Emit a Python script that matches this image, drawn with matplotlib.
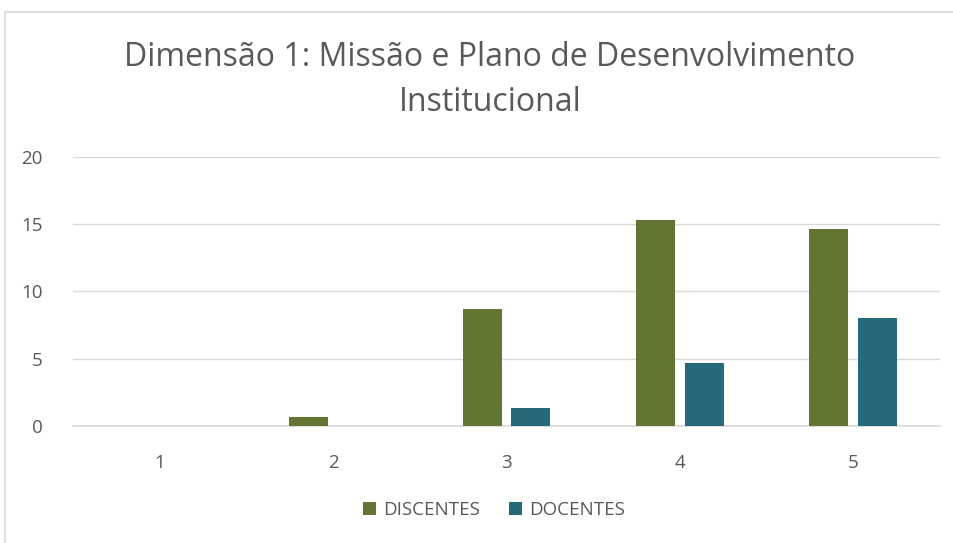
import numpy as np
import matplotlib.pyplot as plt
from matplotlib.lines import Line2D

# data
categorias = ["1", "2", "3", "4", "5"]
discentes = [0, 0.67, 8.67, 15.33, 14.67]
docentes = [0, 0, 1.33, 4.67, 8.0]
titulo = "Dimensão 1: Missão e Plano de Desenvolvimento\nInstitucional"

cor_disc = "#627531"
cor_doc = "#26697b"
cinza = "#595959"

plt.rcParams['font.family'] = ['Open Sans', 'DejaVu Sans']

fig = plt.figure(figsize=(9.54, 5.43), dpi=100)
ax = fig.add_axes([0.0765, 0.2155, 0.9088, 0.4954])

x = np.arange(1, len(categorias) + 1)
w = 0.225
ax.bar(x - 0.141, discentes, w, color=cor_disc, label="DISCENTES", zorder=3)
ax.bar(x + 0.141, docentes, w, color=cor_doc, label="DOCENTES", zorder=3)

ax.set_xlim(0.5, 5.5)
ax.set_ylim(0, 20)
ax.set_yticks([0, 5, 10, 15, 20])
ax.set_xticks(x)
ax.set_xticklabels(categorias)
ax.yaxis.grid(True, color="#d9d9d9", linewidth=1, zorder=0)
for s in ["top", "right", "left"]:
    ax.spines[s].set_visible(False)
ax.spines["bottom"].set_color("#d9d9d9")
ax.spines["bottom"].set_linewidth(1.2)
ax.tick_params(axis="both", length=0, labelsize=13.5, colors=cinza)
ax.tick_params(axis="x", pad=20)
ax.tick_params(axis="y", pad=22)

fig.text(490 / 954, 1 - 80 / 543, titulo, ha="center", va="center",
         fontsize=23, color=cinza, linespacing=1.45)

leg = fig.legend(loc="center", bbox_to_anchor=(494 / 954, 1 - 510 / 543), ncol=2,
                 frameon=False, fontsize=13.5, handlelength=0.7, handleheight=0.7,
                 columnspacing=1.5, handletextpad=0.4)
for t in leg.get_texts():
    t.set_color(cinza)

# chart border (cropped on the right and bottom)
fig.add_artist(Line2D([5 / 954, 5 / 954], [0, 1 - 12 / 543], color="#d9d9d9", lw=1.2))
fig.add_artist(Line2D([5 / 954, 1], [1 - 12 / 543, 1 - 12 / 543], color="#d9d9d9", lw=1.2))

fig.savefig("out.png", dpi=100)
